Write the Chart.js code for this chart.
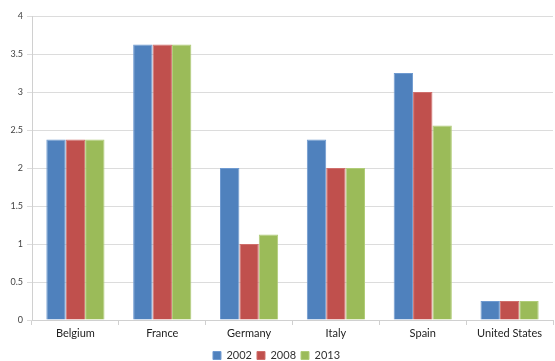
<!DOCTYPE html>
<html>
<head>
<meta charset="utf-8">
<script src="https://cdn.jsdelivr.net/npm/chart.js@4/dist/chart.umd.min.js"></script>
<style>
  html, body { margin: 0; padding: 0; background: #fff; }
  #wrap { width: 555px; height: 361px; }
</style>
</head>
<body>
<div id="wrap"><canvas id="countryBars"></canvas></div>
<script>
const countries = ['Belgium', 'France', 'Germany', 'Italy', 'Spain', 'United States'];
const values2002 = [2.375, 3.625, 2, 2.375, 3.25, 0.25];
const values2008 = [2.375, 3.625, 1, 2, 3, 0.25];
const values2013 = [2.375, 3.625, 1.125, 2, 2.56, 0.25];
const yTicks = [0, 0.5, 1, 1.5, 2, 2.5, 3, 3.5, 4];

const ctx = document.getElementById('countryBars').getContext('2d');

function barSet(label, data, color, edge) {
  return {
    label: label,
    data: data,
    backgroundColor: color,
    borderColor: edge,
    borderWidth: 1,
    categoryPercentage: 0.67,
    barPercentage: 1.0
  };
}

new Chart(ctx, {
  type: 'bar',
  data: {
    labels: countries,
    datasets: [
      barSet('2002', values2002, '#4F81BD', '#6f9ad0'),
      barSet('2008', values2008, '#C0504D', '#cf6f6c'),
      barSet('2013', values2013, '#9BBB59', '#b0cc78')
    ]
  },
  options: {
    responsive: true,
    maintainAspectRatio: false,
    animation: false,
    // legend sits tight against the bottom edge
    layout: { padding: { top: 16, right: 2, left: 0, bottom: -10 } },
    plugins: {
      legend: {
        position: 'bottom',
        labels: {
          boxWidth: 8,
          boxHeight: 8,
          padding: 5,
          color: '#333',
          font: { family: 'Lato', size: 11 }
        }
      },
      tooltip: { enabled: false }
    },
    scales: {
      y: {
        min: 0,
        max: 4,
        afterBuildTicks: s => { s.ticks = yTicks.map(v => ({ value: v })); },
        afterFit: s => { s.width = 32; },
        border: { color: '#d0d0d0' },
        grid: { color: '#dcdcdc', tickLength: 5 },
        ticks: {
          padding: 4,
          color: '#444',
          font: { family: 'Lato', size: 9 },
          callback: v => String(v)
        }
      },
      x: {
        afterFit: s => { s.height = 25; },
        border: { color: '#d0d0d0' },
        grid: { offset: true, drawOnChartArea: false, color: '#d0d0d0', tickLength: 5 },
        ticks: {
          padding: 2,
          color: '#222',
          font: { family: 'Lato', size: 11 }
        }
      }
    }
  }
});
</script>
</body>
</html>
